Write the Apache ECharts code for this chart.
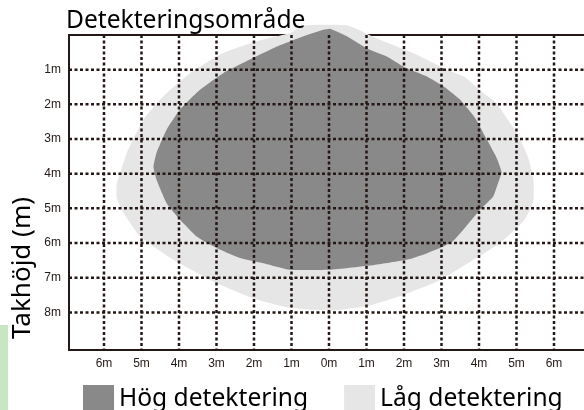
<!DOCTYPE html>
<html>
<head>
<meta charset="utf-8">
<script src="https://cdn.jsdelivr.net/npm/echarts@6/dist/echarts.min.js"></script>
<style>html,body{margin:0;padding:0;background:#fff}#c{width:584px;height:410px}</style>
</head>
<body>
<div id="c"></div>
<script>
// ---- data ----
const xTicks = [-6,-5,-4,-3,-2,-1,0,1,2,3,4,5,6];
const xTickLabels = ['6m','5m','4m','3m','2m','1m','0m','1m','2m','3m','4m','5m','6m'];
const yTicks = [1,2,3,4,5,6,7,8];
const yTickLabels = ['1m','2m','3m','4m','5m','6m','7m','8m'];
const seriesNames = ['Hög detektering','Låg detektering'];
// outline of the high-detection zone [horizontal m, ceiling height m]
const highZone = [
  [0.03,-0.18],[0.5,0.05],[1.0,0.38],[1.54,0.62],[2.0,0.92],[2.6,1.19],[3.05,1.48],
  [3.5,1.87],[3.9,2.4],[4.15,2.9],[4.45,3.5],[4.6,3.95],[4.5,4.3],[4.38,4.66],
  [4.03,5.04],[3.67,5.5],[3.3,5.95],[3.05,6.1],[2.6,6.3],[2.16,6.46],[1.8,6.53],
  [1.09,6.65],[0.5,6.72],[0.0,6.77],[-1.04,6.77],[-1.75,6.58],[-2.37,6.43],
  [-3.0,6.14],[-3.53,5.81],[-3.97,5.33],[-4.33,4.85],[-4.6,4.17],[-4.68,3.8],
  [-4.6,3.4],[-4.33,2.73],[-3.97,2.15],[-3.44,1.58],[-2.82,1.1],[-2.11,0.71],
  [-1.39,0.33],[-0.69,0.04],[-0.15,-0.15]
];
// outline of the low-detection zone
const lowZone = [
  [-0.69,-0.27],[0.51,-0.27],[1.36,0.14],[2.3,0.55],[3.14,1.0],[3.6,1.2],[4.03,1.6],
  [4.47,1.96],[4.74,2.4],[5.0,2.8],[5.3,3.5],[5.45,4.17],[5.45,4.8],[5.2,5.35],
  [4.56,6.0],[3.76,6.55],[2.87,7.12],[1.98,7.5],[1.09,7.8],[0.03,7.95],[-1.04,7.87],
  [-1.93,7.63],[-3.0,7.15],[-4.15,6.48],[-5.04,5.81],[-5.48,5.13],[-5.66,4.7],
  [-5.66,4.3],[-5.57,3.98],[-5.39,3.4],[-4.95,2.44],[-4.42,1.77],[-3.71,1.1],
  [-2.82,0.52],[-1.93,0.18],[-1.04,-0.06]
];

const X_MIN = -6.933, X_MAX = 6.8, Y_MIN = 0, Y_MAX = 9.085;
const INK = '#231815';
const FONT = 'Noto Sans';

function polySeries(name, shape, color, z) {
  return {
    name: name, type: 'custom', z: z, clip: false, silent: true,
    itemStyle: { color: color },
    data: [0],
    renderItem: function (params, api) {
      return {
        type: 'polygon',
        shape: { points: shape.map(function (p) { return api.coord(p); }), smooth: 0.15 },
        style: { fill: color }
      };
    }
  };
}

const gridLines = xTicks.map(function (v) { return ['v', v]; })
  .concat(yTicks.map(function (v) { return ['h', v]; }));

const chart = echarts.init(document.getElementById('c'), null, { renderer: 'canvas' });
chart.setOption({
  animation: false,
  title: {
    text: 'Detekteringsområde', left: 66, top: 8, padding: 0,
    textStyle: { fontFamily: FONT, fontSize: 24.6, fontWeight: 'normal', color: '#000' }
  },
  legend: {
    left: 83, top: 385, padding: 0, itemWidth: 31, itemHeight: 27, itemGap: 36,
    icon: 'rect', selectedMode: false,
    textStyle: { fontFamily: FONT, fontSize: 24.6, color: '#000' },
    data: seriesNames
  },
  grid: { left: 69, right: 0, top: 35, bottom: 60, containLabel: false },
  xAxis: [{
    type: 'value', min: X_MIN, max: X_MAX, position: 'bottom',
    axisLine: { show: true, onZero: false, lineStyle: { color: INK, width: 2 } },
    axisTick: { show: false }, splitLine: { show: false },
    axisLabel: {
      customValues: xTicks, margin: 8, fontFamily: 'Liberation Sans', fontSize: 12, color: INK,
      formatter: function (v) { return xTickLabels[xTicks.indexOf(Math.round(v))]; }
    }
  }, {
    type: 'value', min: X_MIN, max: X_MAX, position: 'top',
    axisLine: { show: true, onZero: false, lineStyle: { color: INK, width: 2 } },
    axisTick: { show: false }, splitLine: { show: false }, axisLabel: { show: false }
  }],
  yAxis: {
    type: 'value', min: Y_MIN, max: Y_MAX, inverse: true,
    axisLine: { show: true, onZero: false, lineStyle: { color: INK, width: 2 } },
    axisTick: { show: false }, splitLine: { show: false },
    axisLabel: {
      customValues: yTicks, margin: 8, fontFamily: 'Liberation Sans', fontSize: 12, color: INK,
      formatter: function (v) { return yTickLabels[yTicks.indexOf(Math.round(v))]; }
    }
  },
  graphic: [
    { type: 'rect', left: 0, top: 325, shape: { width: 8, height: 85 }, style: { fill: '#c8e6c1' }, z: -1 },
    { type: 'text', x: 23, y: 268, rotation: Math.PI / 2,
      style: { text: 'Takhöjd (m)', font: '26px "Noto Sans"', fill: '#000', textAlign: 'center', textVerticalAlign: 'middle' } }
  ],
  series: [
    polySeries(seriesNames[1], lowZone, '#e6e6e6', 1),
    polySeries(seriesNames[0], highZone, '#898989', 2),
    {
      type: 'custom', z: 5, silent: true, clip: false,
      data: gridLines,
      renderItem: function (params, api) {
        const d = gridLines[params.dataIndex];
        let a, b;
        if (d[0] === 'v') { a = api.coord([d[1], Y_MIN]); b = api.coord([d[1], Y_MAX]); }
        else { a = api.coord([X_MIN, d[1]]); b = api.coord([X_MAX, d[1]]); }
        return {
          type: 'line',
          shape: { x1: a[0], y1: a[1], x2: b[0], y2: b[1] },
          style: { stroke: INK, lineWidth: 2.5, lineDash: [3, 2.5] }
        };
      }
    }
  ]
});
</script>
</body>
</html>
